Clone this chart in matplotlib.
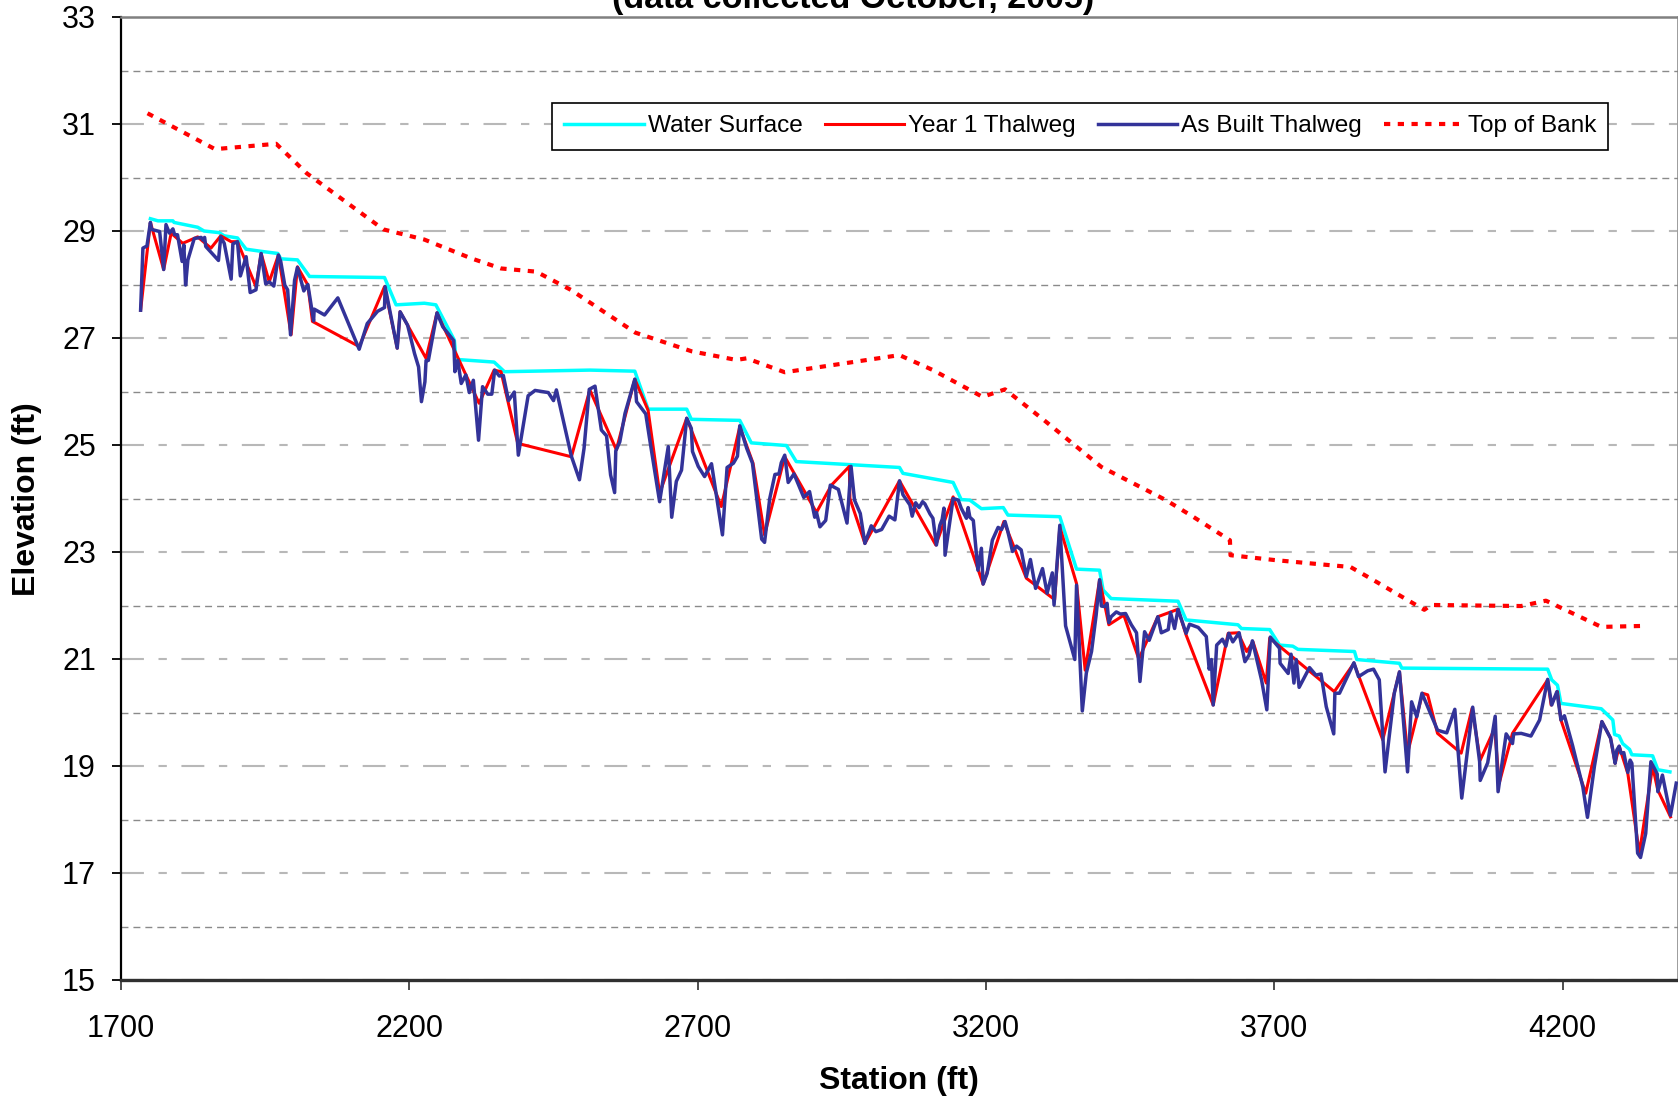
import matplotlib
matplotlib.use("Agg")
import matplotlib.pyplot as plt
from matplotlib.ticker import MultipleLocator, FixedLocator

plt.rcParams['font.family'] = ['Liberation Sans', 'DejaVu Sans']

# ---------------- data ----------------
ws_station = [1751, 1764, 1790, 1792, 1833, 1844, 1870, 1879, 1902, 1917, 1943, 1972, 1977, 2006,
              2027, 2157, 2177, 2226, 2246, 2278, 2281, 2347, 2365, 2513, 2591, 2614, 2681, 2689,
              2773, 2793, 2854, 2871, 3050, 3056, 3143, 3157, 3172, 3192, 3230, 3238, 3328, 3357,
              3397, 3403, 3417, 3533, 3547, 3637, 3643, 3692, 3709, 3732, 3741, 3839, 3843, 3917,
              3921, 4174, 4181, 4191, 4197, 4267, 4287, 4290, 4298, 4304, 4316, 4320, 4356, 4365, 4386]
ws_elev = [29.23, 29.19, 29.19, 29.16, 29.07, 29.00, 28.97, 28.91, 28.87, 28.66, 28.62, 28.58, 28.48, 28.46,
           28.15, 28.13, 27.62, 27.65, 27.62, 26.96, 26.60, 26.55, 26.37, 26.40, 26.38, 25.67, 25.67, 25.48,
           25.46, 25.04, 24.99, 24.69, 24.58, 24.47, 24.30, 23.98, 23.97, 23.81, 23.83, 23.69, 23.66, 22.68,
           22.66, 22.29, 22.13, 22.08, 21.73, 21.64, 21.57, 21.55, 21.26, 21.24, 21.18, 21.14, 20.99, 20.92,
           20.83, 20.81, 20.61, 20.51, 20.17, 20.07, 19.86, 19.59, 19.56, 19.42, 19.31, 19.21, 19.19, 18.93, 18.89]

y1_station = [1734, 1751, 1774, 1787, 1807, 1833, 1856, 1873, 1891, 1902, 1934, 1943, 1957, 1973, 1995,
              2006, 2024, 2032, 2113, 2157, 2179, 2184, 2229, 2248, 2321, 2347, 2359, 2388, 2481, 2513,
              2559, 2591, 2614, 2634, 2681, 2741, 2773, 2796, 2816, 2851, 2906, 2932, 2963, 2964, 2990,
              3050, 3113, 3143, 3195, 3231, 3270, 3319, 3328, 3357, 3372, 3397, 3413, 3439, 3465, 3498,
              3533, 3547, 3594, 3620, 3637, 3652, 3663, 3686, 3692, 3804, 3838, 3888, 3917, 3931, 3957,
              3966, 3983, 4024, 4043, 4057, 4082, 4090, 4113, 4174, 4180, 4191, 4197, 4240, 4268, 4283,
              4291, 4298, 4313, 4333, 4356, 4365, 4387]
y1_elev = [27.52, 29.16, 28.28, 28.96, 28.77, 28.89, 28.68, 28.91, 28.80, 28.80, 27.96, 28.58, 28.05, 28.55, 27.06,
           28.33, 27.99, 27.31, 26.84, 27.96, 26.81, 27.49, 26.62, 27.47, 25.78, 26.40, 26.37, 25.03, 24.78, 26.03,
           24.91, 26.23, 25.65, 24.10, 25.50, 23.85, 25.34, 24.66, 23.32, 24.78, 23.74, 24.25, 24.60, 24.00, 23.16,
           24.33, 23.13, 24.03, 22.40, 23.57, 22.51, 22.11, 23.47, 22.41, 20.79, 22.48, 21.64, 21.82, 21.00, 21.79,
           21.93, 21.45, 20.14, 21.48, 21.49, 21.14, 21.32, 20.55, 21.39, 20.39, 20.92, 19.49, 20.76, 19.24, 20.36,
           20.33, 19.61, 19.24, 20.08, 19.11, 19.70, 18.68, 19.61, 20.61, 20.14, 20.39, 19.86, 18.49, 19.83, 19.52,
           19.05, 19.37, 18.86, 17.37, 18.99, 18.55, 18.05]

ab_station = [1734, 1738, 1745, 1751, 1753, 1767, 1774, 1778, 1784, 1790, 1793, 1798, 1806, 1809, 1812,
              1816, 1827, 1839, 1842, 1845, 1847, 1869, 1873, 1879, 1891, 1894, 1902, 1907, 1917, 1924,
              1934, 1943, 1951, 1957, 1965, 1973, 1977, 1984, 1989, 1994, 2001, 2006, 2017, 2024, 2034,
              2035, 2053, 2076, 2113, 2127, 2145, 2157, 2158, 2179, 2184, 2197, 2209, 2216, 2221, 2227,
              2229, 2233, 2248, 2258, 2277, 2279, 2284, 2290, 2298, 2304, 2311, 2320, 2327, 2336, 2343,
              2348, 2356, 2363, 2372, 2382, 2389, 2406, 2418, 2441, 2450, 2455, 2481, 2495, 2503, 2512,
              2522, 2533, 2542, 2549, 2556, 2558, 2565, 2574, 2591, 2594, 2610, 2616, 2634, 2649, 2655,
              2663, 2672, 2681, 2689, 2691, 2701, 2712, 2724, 2743, 2751, 2762, 2769, 2773, 2785, 2795,
              2811, 2816, 2825, 2834, 2841, 2845, 2851, 2857, 2867, 2884, 2894, 2903, 2906, 2912, 2922,
              2930, 2944, 2959, 2966, 2972, 2982, 2990, 3001, 3009, 3019, 3032, 3042, 3050, 3056, 3068,
              3072, 3078, 3084, 3090, 3094, 3103, 3108, 3114, 3120, 3124, 3127, 3129, 3143, 3152, 3157,
              3166, 3169, 3172, 3178, 3186, 3192, 3195, 3202, 3211, 3221, 3227, 3233, 3237, 3246, 3253,
              3261, 3270, 3277, 3286, 3298, 3306, 3315, 3318, 3328, 3338, 3354, 3357, 3365, 3367, 3374,
              3383, 3391, 3397, 3400, 3406, 3410, 3413, 3417, 3426, 3433, 3442, 3452, 3461, 3467, 3475,
              3483, 3498, 3504, 3516, 3520, 3527, 3533, 3547, 3553, 3568, 3582, 3587, 3591, 3594, 3600,
              3610, 3616, 3621, 3628, 3639, 3643, 3649, 3656, 3662, 3678, 3687, 3693, 3709, 3710, 3724,
              3729, 3734, 3738, 3743, 3761, 3772, 3781, 3790, 3803, 3805, 3813, 3838, 3846, 3862, 3872,
              3882, 3892, 3908, 3917, 3931, 3938, 3947, 3956, 3983, 3992, 3999, 4013, 4025, 4044, 4056,
              4057, 4070, 4083, 4088, 4102, 4113, 4115, 4128, 4145, 4160, 4174, 4181, 4190, 4197, 4203,
              4217, 4235, 4243, 4255, 4268, 4283, 4288, 4291, 4294, 4298, 4301, 4306, 4308, 4313, 4317,
              4320, 4330, 4335, 4344, 4353, 4364, 4365, 4373, 4387, 4397]
ab_elev = [27.52, 28.68, 28.72, 29.16, 29.03, 28.99, 28.28, 29.12, 28.96, 29.04, 28.93, 28.93, 28.43, 28.74, 27.99,
           28.46, 28.86, 28.88, 28.83, 28.88, 28.71, 28.45, 28.89, 28.77, 28.10, 28.76, 28.80, 28.16, 28.52, 27.85,
           27.90, 28.58, 28.01, 28.05, 27.97, 28.55, 28.43, 27.99, 27.90, 27.06, 28.08, 28.32, 27.88, 28.00, 27.32,
           27.54, 27.43, 27.75, 26.79, 27.27, 27.50, 27.57, 27.96, 26.81, 27.49, 27.24, 26.71, 26.46, 25.81, 26.18,
           26.58, 26.58, 27.47, 27.21, 26.95, 26.37, 26.58, 26.15, 26.31, 25.98, 26.21, 25.09, 26.09, 25.95, 25.95,
           26.40, 26.29, 26.30, 25.83, 25.99, 24.81, 25.92, 26.02, 25.98, 25.83, 26.03, 24.79, 24.35, 24.94, 26.04,
           26.10, 25.28, 25.17, 24.44, 24.11, 24.89, 25.06, 25.59, 26.23, 25.81, 25.58, 25.16, 23.94, 24.97, 23.65,
           24.32, 24.53, 25.50, 25.31, 24.88, 24.60, 24.41, 24.65, 23.32, 24.58, 24.66, 24.79, 25.36, 24.94, 24.66,
           23.24, 23.18, 24.00, 24.45, 24.46, 24.67, 24.81, 24.30, 24.46, 24.02, 24.13, 23.65, 23.74, 23.47, 23.59,
           24.25, 24.17, 23.54, 24.60, 23.97, 23.72, 23.16, 23.49, 23.38, 23.42, 23.67, 23.60, 24.33, 24.07, 23.88,
           23.67, 23.92, 23.83, 23.94, 23.90, 23.71, 23.63, 23.13, 23.50, 23.61, 23.82, 22.94, 24.00, 23.97, 23.82,
           23.63, 23.83, 23.65, 23.59, 22.66, 23.07, 22.40, 22.60, 23.22, 23.46, 23.42, 23.57, 23.42, 23.01, 23.11,
           23.04, 22.54, 22.86, 22.32, 22.69, 22.23, 22.61, 22.01, 23.50, 21.62, 20.99, 22.38, 20.51, 20.03, 20.74,
           21.14, 21.82, 22.48, 21.99, 21.98, 22.04, 21.68, 21.79, 21.88, 21.84, 21.85, 21.64, 21.49, 20.58, 21.51,
           21.35, 21.79, 21.49, 21.55, 21.87, 21.57, 21.93, 21.48, 21.65, 21.59, 21.42, 20.81, 20.99, 20.14, 21.26,
           21.37, 21.24, 21.48, 21.32, 21.49, 21.26, 20.95, 21.07, 21.34, 20.60, 20.05, 21.41, 21.20, 20.92, 20.73,
           21.09, 20.55, 20.99, 20.47, 20.84, 20.70, 20.72, 20.11, 19.60, 20.36, 20.36, 20.93, 20.67, 20.78, 20.81,
           20.61, 18.89, 20.36, 20.76, 18.89, 20.20, 19.92, 20.36, 19.67, 19.64, 19.62, 20.06, 18.40, 20.10, 19.08,
           18.73, 19.06, 19.93, 18.52, 19.60, 19.42, 19.60, 19.61, 19.56, 19.86, 20.62, 20.14, 20.39, 19.86, 19.94,
           19.39, 18.61, 18.04, 18.99, 19.83, 19.52, 19.24, 19.05, 19.30, 19.37, 19.24, 19.25, 19.14, 18.88, 19.11,
           19.05, 17.37, 17.29, 17.74, 19.08, 18.85, 18.52, 18.83, 18.08, 18.68]

tob_station = [1746, 1863, 1969, 2022, 2155, 2226, 2307, 2359, 2420, 2480, 2592, 2690, 2767, 2785, 2851,
               3050, 3108, 3194, 3233, 3300, 3400, 3512, 3559, 3623, 3624, 3700, 3790, 3832, 3871, 3960,
               3972, 4128, 4171, 4267, 4347]
tob_elev = [31.20, 30.53, 30.63, 30.08, 29.03, 28.84, 28.49, 28.30, 28.24, 27.90, 27.10, 26.75, 26.59, 26.62, 26.36,
            26.68, 26.40, 25.90, 26.04, 25.47, 24.59, 23.97, 23.66, 23.22, 22.94, 22.85, 22.76, 22.72, 22.48, 21.92,
            22.01, 21.99, 22.09, 21.60, 21.62]

x_ticks = [1700, 2200, 2700, 3200, 3700, 4200]
y_ticks = [15, 17, 19, 21, 23, 25, 27, 29, 31, 33]
subtitle = "(data collected October, 2005)"

# ---------------- figure ----------------
W, H = 1678, 1102
fig = plt.figure(figsize=(W / 100, H / 100), dpi=100)
ax = fig.add_axes([121 / W, 1 - 980 / H, (W - 121) / W, (980 - 17) / H])

ax.plot(ws_station, ws_elev, color='#00FFFF', lw=2.5, label='Water Surface', zorder=3)
ax.plot(y1_station, y1_elev, color='#FF0000', lw=2.2, label='Year 1 Thalweg', zorder=4)
ax.plot(ab_station, ab_elev, color='#333399', lw=2.5, label='As Built Thalweg', zorder=5)
ax.plot(tob_station, tob_elev, color='#FF0000', lw=3.0, linestyle=(0, (1.5, 1.8)),
        label='Top of Bank', zorder=6)

ax.set_xlim(1700, 4400)
ax.set_ylim(15, 33)
ax.xaxis.set_major_locator(FixedLocator(x_ticks))
ax.yaxis.set_major_locator(FixedLocator(y_ticks))
ax.yaxis.set_minor_locator(MultipleLocator(1))

ax.grid(which='major', axis='y', color='#b8b8b8', lw=1.5, linestyle=(0, (11, 7, 4, 7)))
ax.grid(which='minor', axis='y', color='#8a8a8a', lw=1.0, linestyle=(0, (5, 3.6)))
ax.set_axisbelow(True)

ax.tick_params(axis='both', which='major', direction='out', labelsize=22)
ax.tick_params(axis='y', which='major', length=6.5, width=1.3, color='black', pad=11.5)
ax.tick_params(axis='x', which='major', length=7.5, width=1.3, color='#404040', pad=17)
ax.tick_params(which='minor', length=0)

ax.spines['left'].set_color('black')
ax.spines['left'].set_linewidth(1.6)
ax.spines['bottom'].set_color('#303030')
ax.spines['bottom'].set_linewidth(2.4)
ax.spines['top'].set_color('#808080')
ax.spines['top'].set_linewidth(1.8)
ax.spines['right'].set_color('#808080')
ax.spines['right'].set_linewidth(1.8)

leg = ax.legend(loc='upper left', bbox_to_anchor=((552 - 121) / 1557, 1 - (103 - 17) / 963),
                ncol=4, fontsize=17.6, frameon=True, fancybox=False, framealpha=1,
                edgecolor='black', borderpad=0.5, handlelength=3.25, handletextpad=0.17,
                columnspacing=0.9, borderaxespad=0)
leg.get_frame().set_linewidth(1.2)

fig.text(853.5 / W, 1 - 8 / H, subtitle, ha='center', va='baseline', fontsize=24.5, weight='bold')
fig.text(27 / W, 1 - 499 / H, 'Elevation (ft)', ha='center', va='center', rotation=90,
         fontsize=23, weight='bold')
fig.text(899 / W, 1 - 1081 / H, 'Station (ft)', ha='center', va='center', fontsize=23, weight='bold')

fig.savefig('out.png', dpi=100)
